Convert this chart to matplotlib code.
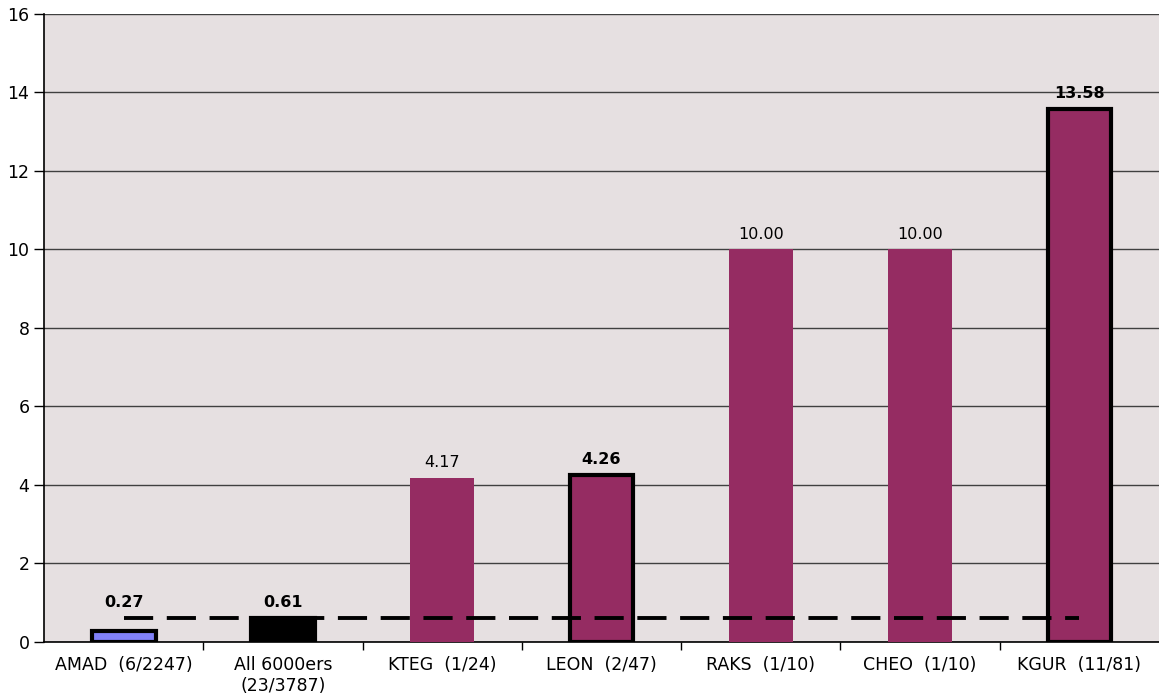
import matplotlib.pyplot as plt
import numpy as np

categories = ["AMAD  (6/2247)", "All 6000ers\n(23/3787)", "KTEG  (1/24)", "LEON  (2/47)",
              "RAKS  (1/10)", "CHEO  (1/10)", "KGUR  (11/81)"]
values = [0.27, 0.61, 4.17, 4.26, 10.00, 10.00, 13.58]
value_labels = ["0.27", "0.61", "4.17", "4.26", "10.00", "10.00", "13.58"]
bold_labels = [True, True, False, True, False, False, True]
face_colors = ["#8080F8", "#000000", "#952C62", "#952C62", "#952C62", "#952C62", "#952C62"]
outlined = [True, True, False, True, False, False, True]
reference_level = 0.61

fig = plt.figure(figsize=(11.59, 7), dpi=100)
ax = fig.add_axes([0.038, 0.083, 0.962, 0.897])
ax.set_facecolor("#E6E0E1")

x = np.arange(len(categories))
for i in range(len(categories)):
    ax.bar(x[i], values[i], width=0.4, color=face_colors[i],
           edgecolor="black" if outlined[i] else face_colors[i],
           linewidth=3 if outlined[i] else 0, zorder=3)
    # small bars get their label above the dashed reference line
    label_y = max(values[i], reference_level) + 0.2
    ax.text(x[i], label_y, value_labels[i], ha="center", va="bottom",
            fontsize=11.5, fontweight="bold" if bold_labels[i] else "normal", zorder=5)

ax.plot([x[0], x[-1]], [reference_level, reference_level], color="black",
        linestyle=(0, (7.5, 3.5)), linewidth=2.8, zorder=4)

ax.set_xlim(-0.5, len(categories) - 0.5)
ax.set_ylim(0, 16)
ax.set_yticks(np.arange(0, 17, 2))
ax.yaxis.grid(True, color="#404040", linewidth=1)
ax.set_axisbelow(True)

ax.set_xticks(x)
ax.set_xticklabels(categories, fontsize=12.5)
ax.tick_params(axis="x", length=0, pad=10)
ax.set_xticks(np.arange(0.5, len(categories) - 1, 1), minor=True)
ax.tick_params(axis="x", which="minor", length=6, width=1)
ax.tick_params(axis="y", labelsize=12.5, length=7, width=1)

for s in ["top", "right"]:
    ax.spines[s].set_visible(False)
ax.spines["left"].set_linewidth(1.2)
ax.spines["bottom"].set_linewidth(1.2)

fig.savefig("out.png", dpi=100)
